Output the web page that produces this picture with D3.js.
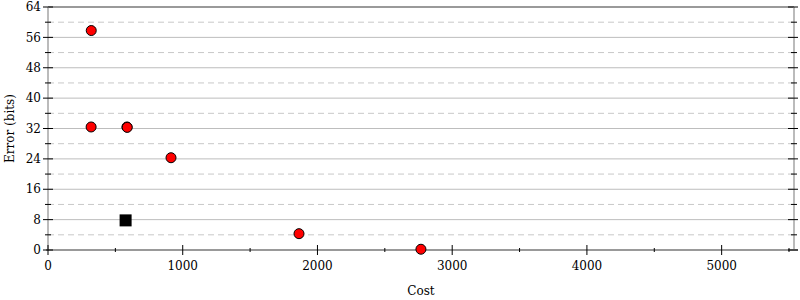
<!DOCTYPE html>
<html><head><meta charset="utf-8">
<script src="https://cdn.jsdelivr.net/npm/d3@7"></script>
<style>
body{margin:0;background:#fff;}
text{font-family:"DejaVu Serif",serif;font-size:12px;fill:#000;}
</style></head>
<body><svg id="c" width="800" height="300"></svg>
<script>
const circleCost  = [321, 320, 586, 588, 913, 1863, 2768];
const circleError = [57.8, 32.4, 32.4, 32.3, 24.3, 4.3, 0.2];
const squareCost  = [576];
const squareError = [7.8];
const xTicks = [0, 1000, 2000, 3000, 4000, 5000];
const yTicks = [0, 8, 16, 24, 32, 40, 48, 56, 64];
const xDomain = [0, 5537];
const yDomain = [0, 64];

const svg = d3.select("#c");
const L = 48, R = 794, T = 7, B = 250;
const x = d3.scaleLinear().domain(xDomain).range([L, R]);
const y = d3.scaleLinear().domain(yDomain).range([B, T]);

const xMinor = d3.range(500, xDomain[1], 1000);
const yMinor = d3.range(4, 64, 8);

// grid
svg.append("g").selectAll("line").data(yTicks.filter(d => d > 0 && d < 64)).join("line")
  .attr("x1", L).attr("x2", R).attr("y1", d => y(d)).attr("y2", d => y(d))
  .attr("stroke", "#bdbdbd").attr("stroke-width", 1);
svg.append("g").selectAll("line").data(yMinor).join("line")
  .attr("x1", L).attr("x2", R).attr("y1", d => y(d)).attr("y2", d => y(d))
  .attr("stroke", "#c8c8c8").attr("stroke-width", 1).attr("stroke-dasharray", "6,4");

// frame
svg.append("line").attr("x1", L).attr("x2", R).attr("y1", T).attr("y2", T).attr("stroke", "#9a9a9a").attr("stroke-width", 2);
svg.append("line").attr("x1", R).attr("x2", R).attr("y1", T).attr("y2", B).attr("stroke", "#bbbbbb").attr("stroke-width", 2);
svg.append("line").attr("x1", L).attr("x2", L).attr("y1", T).attr("y2", B).attr("stroke", "#bbbbbb").attr("stroke-width", 2);
svg.append("line").attr("x1", L - 2).attr("x2", R + 4).attr("y1", B).attr("y2", B).attr("stroke", "#999999").attr("stroke-width", 2);

// axes ticks
const tickG = svg.append("g").attr("stroke", "#000").attr("stroke-width", 1);
yTicks.forEach(d => {
  tickG.append("line").attr("x1", L - 5).attr("x2", L + 5).attr("y1", y(d)).attr("y2", y(d));
  tickG.append("line").attr("x1", R - 6).attr("x2", R + 4).attr("y1", y(d)).attr("y2", y(d));
});
yMinor.forEach(d => {
  tickG.append("line").attr("x1", L - 3).attr("x2", L + 3).attr("y1", y(d)).attr("y2", y(d));
  tickG.append("line").attr("x1", R - 3).attr("x2", R + 3).attr("y1", y(d)).attr("y2", y(d));
});
xTicks.forEach(d => {
  tickG.append("line").attr("x1", x(d)).attr("x2", x(d)).attr("y1", B - 5).attr("y2", B + 5);
});
xMinor.forEach(d => {
  tickG.append("line").attr("x1", x(d)).attr("x2", x(d)).attr("y1", B - 2).attr("y2", B + 2);
});

// tick labels
svg.append("g").selectAll("text").data(yTicks).join("text")
  .attr("x", L - 7).attr("y", d => y(d)).attr("dy", "0.35em").attr("text-anchor", "end")
  .text(d => d);
svg.append("g").selectAll("text").data(xTicks).join("text")
  .attr("x", d => x(d)).attr("y", 270).attr("text-anchor", "middle")
  .text(d => d);

// axis titles
svg.append("text").attr("x", (L + R) / 2).attr("y", 295).attr("text-anchor", "middle").text("Cost");
svg.append("text").attr("transform", `translate(14,${(T + B) / 2}) rotate(-90)`).attr("text-anchor", "middle").text("Error (bits)");

// points
svg.append("g").selectAll("circle").data(circleCost.map((c, i) => [c, circleError[i]])).join("circle")
  .attr("cx", d => x(d[0])).attr("cy", d => y(d[1])).attr("r", 5)
  .attr("fill", "#ff0000").attr("stroke", "#000").attr("stroke-width", 1);
svg.append("g").selectAll("rect").data(squareCost.map((c, i) => [c, squareError[i]])).join("rect")
  .attr("x", d => x(d[0]) - 6).attr("y", d => y(d[1]) - 6).attr("width", 12).attr("height", 12)
  .attr("fill", "#000");
</script></body></html>
